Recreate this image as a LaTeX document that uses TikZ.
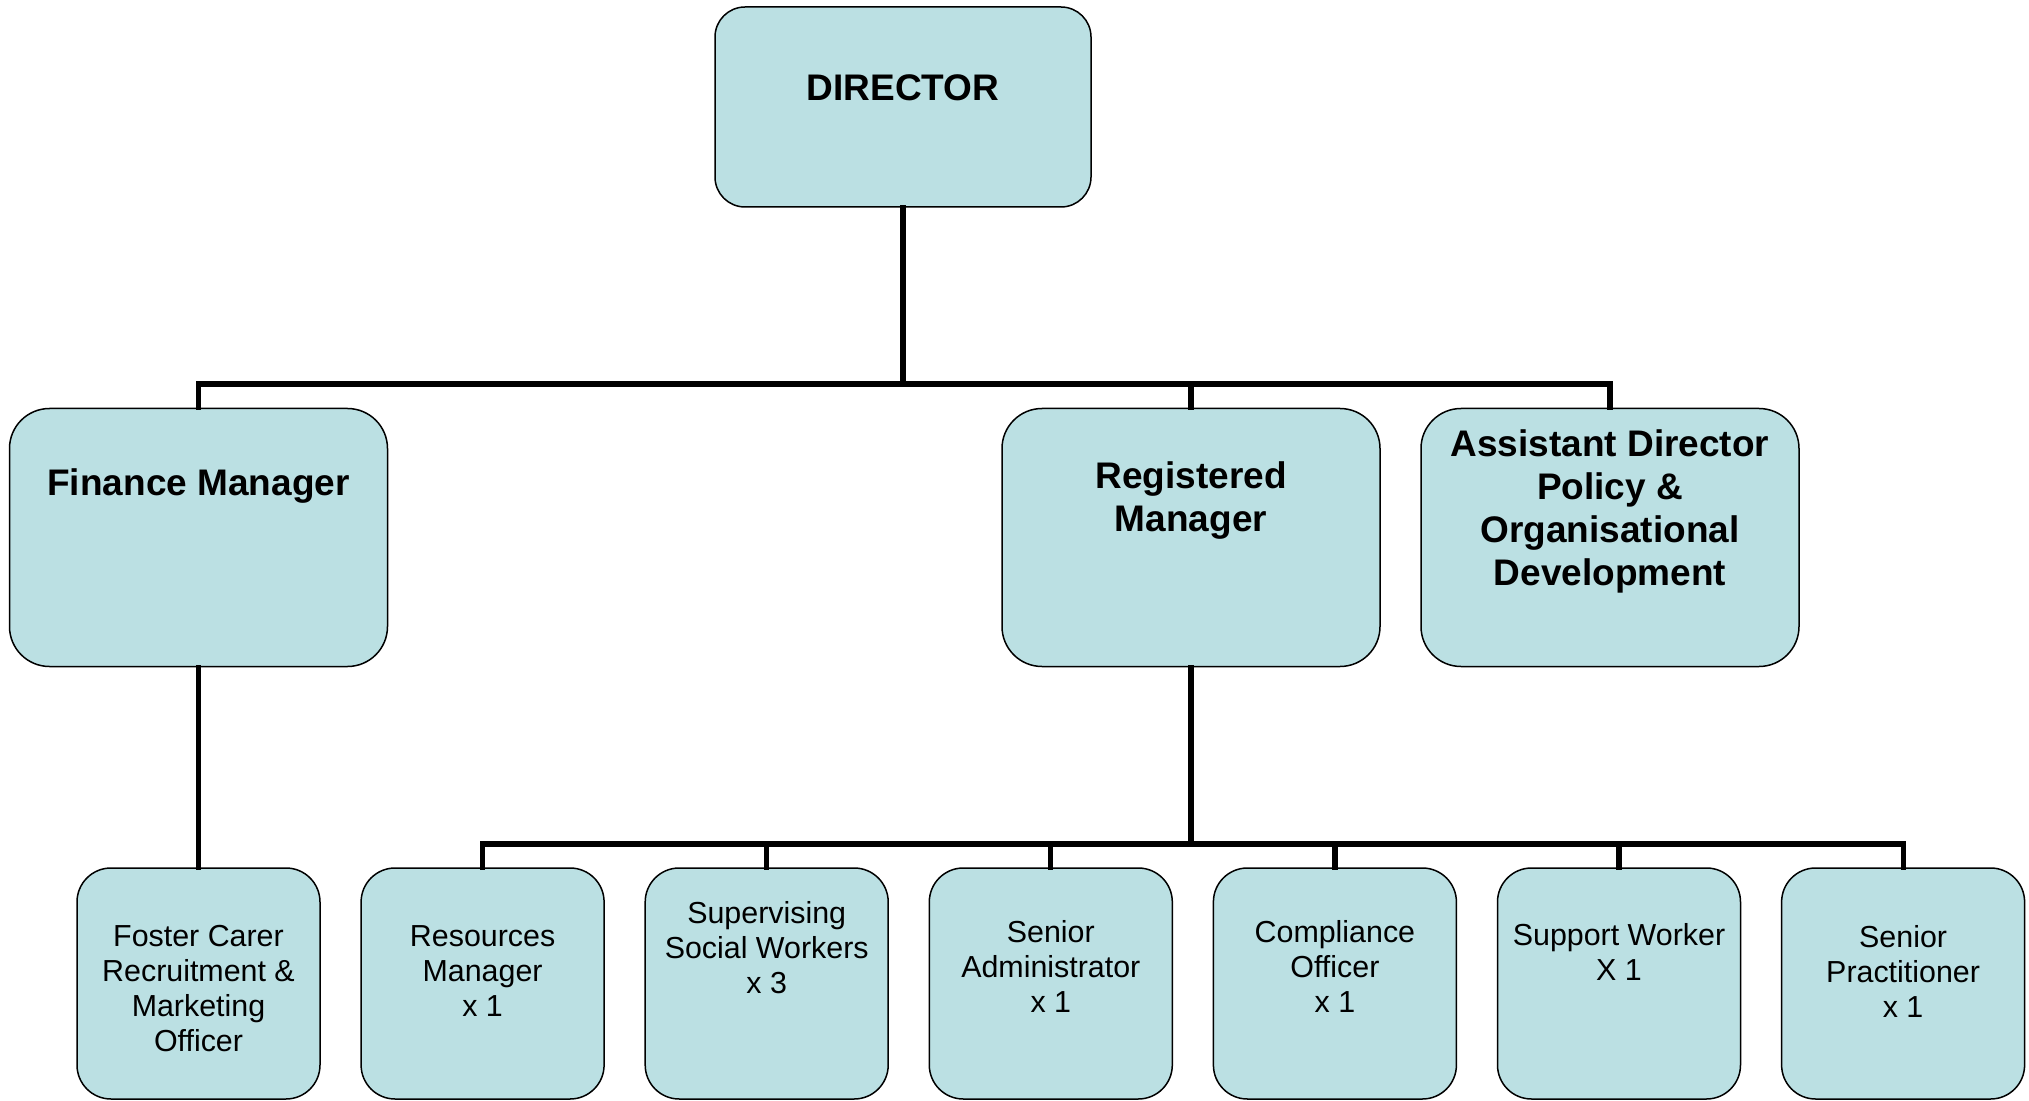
\documentclass[tikz,border=0pt]{standalone}
\usepackage{fontspec}
\setmainfont{Liberation Sans}
\definecolor{boxfill}{RGB}{187,224,227}
\begin{document}
\begin{tikzpicture}[x=0.5pt,y=-0.5pt,
  box/.style={draw=black, line width=0.75pt, fill=boxfill, inner sep=0pt},
  topbox/.style={box, minimum width=188pt, minimum height=100pt, rounded corners=15pt},
  midbox/.style={box, minimum width=189pt, minimum height=129pt, rounded corners=20pt},
  lowbox/.style={box, minimum width=121.5pt, minimum height=115.5pt, rounded corners=17pt},
  bigtxt/.style={align=center, font=\fontsize{18.5pt}{21.5pt}\selectfont\bfseries, inner sep=0pt},
  smalltxt/.style={align=center, font=\fontsize{15.2pt}{17.5pt}\selectfont, inner sep=0pt},
  conn/.style={line width=2.6pt, line cap=rect}]
\useasboundingbox (0,0) rectangle (2029,1101);
\clip (0,0) rectangle (2029,1101);

\coordinate (bus1) at (903,384);
\coordinate (bus2) at (1191,844);

% boxes
\node[topbox] (dir) at (903,107) {};
\node[midbox] (fin) at (198.5,537.5) {};
\node[midbox] (reg) at (1191,537.5) {};
\node[midbox] (asst) at (1610,537.5) {};

\node[lowbox] (fos)  at (198.5,983.5) {};
\node[lowbox] (res)  at (482.6,983.5) {};
\node[lowbox] (sup)  at (766.7,983.5) {};
\node[lowbox] (adm)  at (1050.8,983.5) {};
\node[lowbox] (com)  at (1334.9,983.5) {};
\node[lowbox] (wrk)  at (1619,983.5) {};
\node[lowbox] (prac) at (1903.1,983.5) {};

% connectors
\draw[conn] (dir.south) -- (bus1);
\draw[conn] (fin.north) -- (fin.north |- bus1) -- (asst.north |- bus1) -- (asst.north);
\draw[conn] (reg.north) -- (reg.north |- bus1);
\draw[conn] (fin.south) -- (fos.north);
\draw[conn] (reg.south) -- (bus2);
\draw[conn] (res.north) -- (res.north |- bus2) -- (prac.north |- bus2) -- (prac.north);
\foreach \n in {sup,adm,com,wrk} {
  \draw[conn] (\n.north) -- (\n.north |- bus2);
}

% texts
\node[bigtxt] (tdir) at (903,88) {DIRECTOR};
\node[bigtxt] (tfin) at (198.5,486) {Finance Manager};
\node[bigtxt] (treg) at (1191,501) {Registered\\Manager};
\node[bigtxt] (tasst) at (1610,511) {Assistant Director\\Policy \&\\Organisational\\Development};

\node[smalltxt] (tfos)  at (198.5,989) {Foster Carer\\Recruitment \&\\Marketing\\Officer};
\node[smalltxt] (tres)  at (482.6,971) {Resources\\Manager\\x 1};
\node[smalltxt] (tsup)  at (766.7,948) {Supervising\\Social Workers\\x 3};
\node[smalltxt] (tadm)  at (1050.8,966) {Senior\\Administrator\\x 1};
\node[smalltxt] (tcom)  at (1334.9,966) {Compliance\\Officer\\x 1};
\node[smalltxt] (twrk)  at (1619,952) {Support Worker\\X 1};
\node[smalltxt] (tprac) at (1903.1,971) {Senior\\Practitioner\\x 1};
\end{tikzpicture}
\end{document}
